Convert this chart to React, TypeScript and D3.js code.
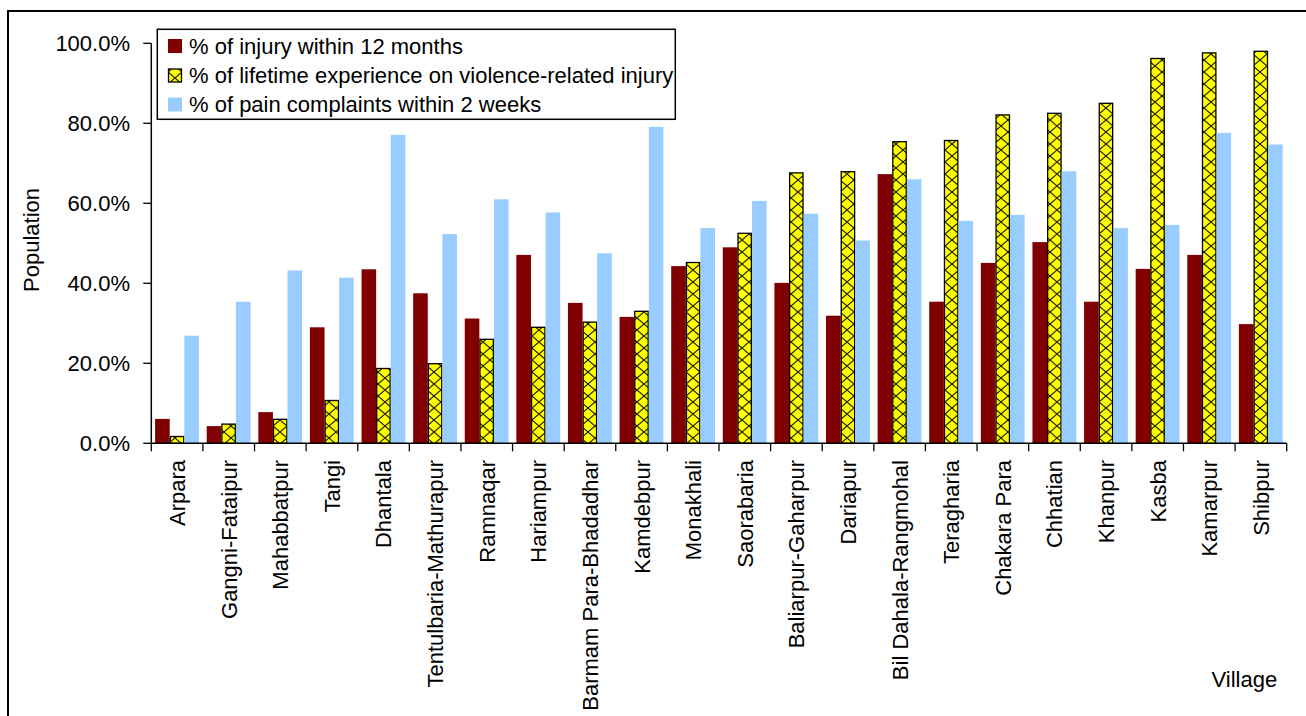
import React from "react";
import * as d3 from "d3";

// Villages along the x axis
const villages = [
  "Arpara", "Gangni-Fataipur", "Mahabbatpur", "Tangi", "Dhantala",
  "Tentulbaria-Mathurapur", "Ramnaqar", "Hariampur", "Barmam Para-Bhadadhar",
  "Kamdebpur", "Monakhali", "Saorabaria", "Baliarpur-Gaharpur", "Dariapur",
  "Bil Dahala-Rangmohal", "Teragharia", "Chakara Para", "Chhatian", "Khanpur",
  "Kasba", "Kamarpur", "Shibpur",
];

// Percentages per village
const injury12Months = [
  6.1, 4.3, 7.8, 29.0, 43.5, 37.5, 31.2, 47.1, 35.1, 31.6, 44.3,
  49.0, 40.1, 31.9, 67.3, 35.4, 45.1, 50.3, 35.4, 43.6, 47.1, 29.8,
];
const lifetimeViolence = [
  1.7, 4.8, 6.0, 10.7, 18.7, 19.9, 26.0, 29.0, 30.3, 33.0, 45.2,
  52.5, 67.6, 67.9, 75.4, 75.7, 82.1, 82.5, 85.0, 96.2, 97.6, 98.0,
];
const painComplaints = [
  26.9, 35.4, 43.2, 41.4, 77.1, 52.3, 61.0, 57.7, 47.5, 79.1, 53.8,
  60.6, 57.4, 50.7, 66.0, 55.6, 57.1, 68.0, 53.8, 54.6, 77.6, 74.7,
];

const seriesLabels = [
  "% of injury within 12 months",
  "% of lifetime experience on violence-related injury",
  "% of pain complaints within 2 weeks",
];
const yTicks = [0, 20, 40, 60, 80, 100];

const W = 1306;
const H = 716;
const FONT = "'Liberation Sans', Arial, Helvetica, sans-serif";
const FS = 22;

const series = [
  { key: "injury", label: seriesLabels[0], values: injury12Months, fill: "#800000", hatch: false },
  { key: "lifetime", label: seriesLabels[1], values: lifetimeViolence, fill: "#FFFF00", hatch: true },
  { key: "pain", label: seriesLabels[2], values: painComplaints, fill: "#99CCFF", hatch: false },
];

export default function App() {
  const left = 151.3;
  const right = 1286.7;
  const bottom = 443.3;
  const top = 43.3;

  const x = d3.scaleBand<string>().domain(villages).range([left, right]).padding(0);
  const bw = x.bandwidth();
  const xSub = d3
    .scaleBand<string>()
    .domain(series.map((s) => s.key))
    .range([3.8, bw - 4])
    .padding(0);
  const y = d3.scaleLinear().domain([0, 100]).range([bottom, top]);
  const fmt = (v: number) => d3.format(".1f")(v) + "%";

  const boundaries = d3.range(villages.length + 1).map((i) => left + i * bw);

  const legendX = 157.3;
  const legendY = 29.3;
  const legendRows = [46, 75.5, 104.5];

  return (
    <svg
      width={W}
      height={H}
      style={{ position: "fixed", left: 0, top: 0, background: "#fff" }}
      fontFamily={FONT}
    >
      <defs>
        <pattern id="trellis" patternUnits="userSpaceOnUse" width="14" height="12">
          <rect width="14" height="12" fill="#FFFF00" />
          <path d="M0,0 L14,12 M14,0 L0,12" stroke="#1a1a00" strokeWidth="1.1" fill="none" />
        </pattern>
      </defs>

      {/* outer frame */}
      <path d={`M8,${H} L8,11 L${W},11`} stroke="#000" strokeWidth={2} fill="none" />

      {/* bars */}
      {series.map((s) => (
        <g key={s.key}>
          {villages.map((v, i) => {
            const x0 = (x(v) as number) + (xSub(s.key) as number);
            const w = xSub.bandwidth();
            const y0 = y(s.values[i]);
            const h = bottom - y0;
            return s.hatch ? (
              <rect
                key={v}
                x={x0 + 0.6}
                y={y0}
                width={w - 1.2}
                height={h}
                fill="url(#trellis)"
                stroke="#000"
                strokeWidth={1.3}
              />
            ) : (
              <rect key={v} x={x0} y={y0} width={w} height={h} fill={s.fill} />
            );
          })}
        </g>
      ))}

      {/* y axis */}
      <line x1={left} x2={left} y1={top} y2={bottom} stroke="#000" strokeWidth={1.5} />
      {yTicks.map((t) => (
        <g key={t}>
          <line x1={left - 8} x2={left} y1={y(t)} y2={y(t)} stroke="#000" strokeWidth={1.3} />
          <text x={130} y={y(t)} dy="0.36em" textAnchor="end" fontSize={FS} fill="#000">
            {fmt(t)}
          </text>
        </g>
      ))}

      {/* x axis */}
      <line x1={left} x2={right} y1={bottom} y2={bottom} stroke="#000" strokeWidth={1.5} />
      {boundaries.map((bx, i) => (
        <line key={i} x1={bx} x2={bx} y1={bottom} y2={bottom + 8} stroke="#000" strokeWidth={1.3} />
      ))}
      {villages.map((v) => {
        const cx = (x(v) as number) + bw / 2;
        const ty = 460;
        return (
          <text
            key={v}
            transform={`translate(${cx},${ty}) rotate(-90)`}
            dy="0.36em"
            textAnchor="end"
            fontSize={FS}
            fill="#000"
          >
            {v}
          </text>
        );
      })}

      {/* axis titles */}
      <text transform="translate(39,240) rotate(-90)" textAnchor="middle" fontSize={FS} fill="#000">
        Population
      </text>
      <text x={1211.5} y={686.5} fontSize={FS} fill="#000">
        Village
      </text>

      {/* legend */}
      <rect x={legendX} y={legendY} width={518} height={90} fill="#fff" stroke="#000" strokeWidth={1.5} />
      {series.map((s, i) => (
        <g key={s.key}>
          {s.hatch ? (
            <rect
              x={168.5}
              y={legendRows[i] - 6.5}
              width={13}
              height={13}
              fill="url(#trellis)"
              stroke="#000"
              strokeWidth={1.3}
            />
          ) : (
            <rect x={168} y={legendRows[i] - 7} width={14} height={14} fill={s.fill} />
          )}
          <text x={189} y={legendRows[i]} dy="0.36em" fontSize={FS} fill="#000">
            {s.label}
          </text>
        </g>
      ))}
    </svg>
  );
}
